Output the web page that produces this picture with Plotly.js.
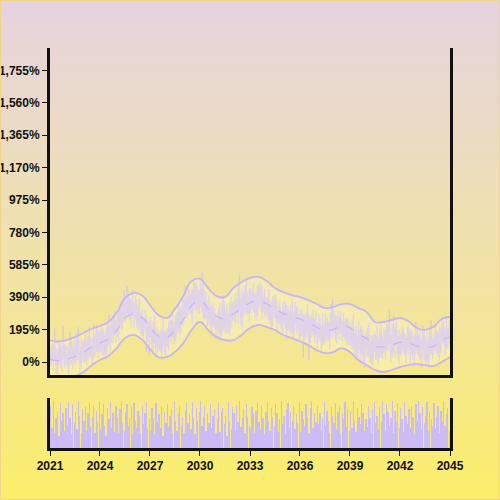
<!DOCTYPE html>
<html>
<head>
<meta charset="utf-8">
<script src="https://cdn.plot.ly/plotly-3.0.1.min.js"></script>
<style>
html,body{margin:0;padding:0;}
#wrap{position:relative;width:500px;height:500px;background:linear-gradient(to bottom,#e5d3df 0%,#ecdcc0 30%,#f2e4a0 60%,#fbee6a 100%);}
#chart{position:absolute;left:0;top:0;width:500px;height:500px;}
#frame{position:absolute;left:0;top:0;width:500px;height:500px;box-sizing:border-box;border:1px solid #f0d48c;pointer-events:none;}
</style>
</head>
<body>
<div id="wrap"><div id="chart"></div><div id="frame"></div></div>
<script>
// ---- monthly OHLC (percent) 2021-01 .. 2044-12 ----
const openVals = [
20,60,10,85,40,-20,30,75,5,50,95,20,
45,-10,60,110,35,80,15,70,130,45,-5,90,
60,120,30,85,150,60,100,40,140,95,170,70,
130,90,175,110,60,150,200,120,210,160,250,180,
230,200,280,230,320,260,350,300,380,330,270,360,
310,280,340,250,300,220,270,190,240,260,180,150,
210,170,110,200,130,90,160,120,80,190,140,100,
170,130,200,160,240,180,150,230,280,210,300,250,
330,290,380,320,410,350,300,420,360,440,380,330,
400,350,430,300,370,280,330,260,310,230,290,250,
200,230,300,180,260,330,220,290,250,200,310,270,
340,280,360,300,410,340,270,380,320,420,360,300,
390,340,410,370,300,400,350,430,380,320,390,340,
300,370,310,260,340,290,360,300,250,320,280,230,
300,250,320,210,280,230,300,190,260,310,220,270,
200,280,230,170,250,200,270,150,220,260,180,240,
190,150,230,180,120,210,160,240,190,140,220,280,
200,250,170,230,190,260,210,170,240,200,150,220,
180,140,210,100,170,60,130,190,80,150,40,120,
90,160,50,110,20,130,80,150,40,100,170,60,
120,70,180,110,210,140,60,160,100,190,130,50,
150,90,170,120,60,140,100,180,70,130,50,110,
160,80,140,30,110,150,60,120,20,100,170,70,
130,90,170,120,60,180,130,210,150,100,190,140
];
const closeVals = [
60,10,85,40,-20,30,75,5,50,95,20,45,
-10,60,110,35,80,15,70,130,45,-5,90,60,
120,30,85,150,60,100,40,140,95,170,70,130,
90,175,110,60,150,200,120,210,160,250,180,230,
200,280,230,320,260,350,300,380,330,270,360,310,
280,340,250,300,220,270,190,240,260,180,150,210,
170,110,200,130,90,160,120,80,190,140,100,170,
130,200,160,240,180,150,230,280,210,300,250,330,
290,380,320,410,350,300,420,360,440,380,330,400,
350,430,300,370,280,330,260,310,230,290,250,200,
230,300,180,260,330,220,290,250,200,310,270,340,
280,360,300,410,340,270,380,320,420,360,300,390,
340,410,370,300,400,350,430,380,320,390,340,300,
370,310,260,340,290,360,300,250,320,280,230,300,
250,320,210,280,230,300,190,260,310,220,270,200,
280,230,170,250,200,270,150,220,260,180,240,190,
150,230,180,120,210,160,240,190,140,220,280,200,
250,170,230,190,260,210,170,240,200,150,220,180,
140,210,100,170,60,130,190,80,150,40,120,90,
160,50,110,20,130,80,150,40,100,170,60,120,
70,180,110,210,140,60,160,100,190,130,50,150,
90,170,120,60,140,100,180,70,130,50,110,160,
80,140,30,110,150,60,120,20,100,170,70,130,
90,170,120,60,180,130,210,150,100,190,140,200
];
const highVals = [
90,115,105,200,80,55,135,110,95,215,110,95,
100,80,180,150,105,140,105,175,210,60,140,120,
140,190,125,175,210,135,145,220,155,220,200,185,
200,215,200,170,185,245,280,225,260,280,305,250,
270,305,340,355,365,430,365,460,410,385,380,430,
335,400,375,345,380,285,320,270,315,280,250,250,
270,205,245,280,145,210,190,175,210,260,180,195,
205,245,280,255,290,210,285,300,350,340,325,390,
375,460,395,460,440,405,440,490,480,465,440,435,
480,540,480,400,425,350,400,350,335,350,325,295,
280,330,355,280,400,370,315,350,285,355,390,355,
370,415,380,480,520,365,440,415,465,500,375,440,
445,430,480,410,425,460,465,475,460,405,440,370,
390,440,350,365,400,395,405,380,335,370,310,355,
370,360,345,340,315,345,380,275,360,340,325,290,
320,305,290,285,295,350,285,270,290,315,260,310,
215,290,265,225,290,225,290,270,245,240,350,375,
310,285,275,310,275,310,240,295,260,270,260,245,
215,255,290,185,220,160,245,210,220,190,145,180,
205,240,125,160,160,185,170,220,140,195,230,155,
200,195,230,240,310,160,230,280,215,250,165,195,
165,220,200,175,160,210,220,205,190,165,155,240,
210,170,195,130,220,190,145,180,135,215,250,145,
160,225,190,190,220,205,270,245,195,270,205,250
];
const lowVals = [
-25,-10,-55,10,-70,-95,5,-35,-55,30,-35,-15,
-30,-75,30,-15,-40,-10,-25,10,25,-60,-40,15,
-5,0,-20,10,35,20,-20,20,40,60,25,50,
60,40,35,35,20,90,100,65,125,115,160,115,
150,125,205,190,200,240,245,265,285,250,205,280,
205,255,210,190,200,165,155,145,220,60,120,40,
145,70,50,110,35,55,75,60,15,110,50,25,
90,70,140,105,145,105,130,165,180,160,175,225,
230,270,265,285,305,280,235,330,310,305,305,290,
330,295,265,255,260,215,230,210,155,205,210,140,
145,195,135,160,195,190,170,175,175,160,210,250,
245,235,280,235,310,220,195,295,280,300,280,245,
295,320,305,270,250,275,325,340,260,300,285,265,
280,245,230,210,215,265,260,190,230,225,195,185,
220,200,135,185,190,170,170,135,225,175,200,135,
150,155,30,130,140,180,10,115,175,160,115,160,
75,125,140,60,100,105,125,145,120,75,190,150,
175,130,110,170,135,175,125,150,135,120,100,105,
100,80,80,45,25,15,110,15,50,-10,-35,65,
30,30,-5,-15,-25,60,15,10,-10,25,35,20,
50,15,75,65,120,-5,30,50,25,105,10,-10,
35,55,75,40,-5,70,50,-5,45,10,-10,90,
45,35,10,-35,80,10,-15,-5,-20,40,50,15,
45,70,55,30,10,55,105,110,40,80,85,105
];
const volumeVals = [
85,40,95,30,60,75,25,90,55,70,35,80,
45,92,60,28,88,50,72,38,95,65,30,78,
55,82,35,70,90,42,62,85,30,75,52,93,
38,68,88,45,25,80,58,92,40,70,33,85,
62,30,78,95,50,35,72,88,45,60,82,28,
90,55,40,75,65,30,85,48,70,92,38,58,
35,80,60,28,90,52,68,40,82,25,72,50,
88,42,65,78,30,95,55,35,70,85,45,62,
30,75,90,50,68,38,92,60,28,80,55,72,
95,45,62,85,35,70,50,88,40,65,78,30,
58,90,32,72,80,48,65,25,92,55,38,82,
70,35,85,52,95,42,60,78,30,88,62,45,
40,82,68,30,75,90,52,38,85,60,28,72,
92,55,35,80,62,45,88,70,32,58,95,48,
65,28,78,90,42,72,55,85,38,68,50,92,
32,75,58,45,88,62,30,80,95,40,70,52,
85,48,70,35,60,92,45,75,55,30,82,65,
50,90,38,72,85,28,68,58,92,42,78,35,
75,40,95,55,32,80,62,48,88,70,35,58,
42,85,60,30,78,92,50,65,38,82,55,95,
68,35,88,72,45,60,95,30,75,52,90,40,
80,58,32,92,65,48,78,40,85,62,28,88,
55,95,70,38,82,50,65,92,35,72,58,45,
90,40,62,85,30,75,52,95,45,68,80,35
];
// ---- bands at half-year steps 2021-01 .. 2045-01 ----
const bandUpper = [132,122,132,150,175,199,217,241,295,385,415,403,343,283,265,319,397,488,500,445,397,391,445,482,506,512,488,445,421,403,391,373,349,325,331,349,349,325,301,241,241,253,265,247,205,193,211,259,271];
const bandMiddle = [16,8,16,33,58,90,115,139,190,265,289,271,211,157,148,190,256,341,371,319,274,262,289,323,356,368,350,319,292,274,259,238,211,190,196,217,205,169,142,97,91,103,118,115,97,88,94,130,151];
const bandLower = [-100,-106,-100,-85,-60,-20,12,36,84,144,163,138,78,30,30,60,114,193,241,193,150,132,132,163,205,223,211,193,163,144,126,102,72,54,60,84,60,12,-18,-48,-60,-48,-30,-18,-12,-18,-24,0,30];
const yTickStep = 195;
const yearTickStart = '2021-01-01';

const monthDates = [];
for (let y = 2021; y <= 2044; y++) {
  for (let m = 1; m <= 12; m++) monthDates.push(y + '-' + String(m).padStart(2,'0') + '-15');
}
const bandDates = [];
for (let i = 0; i < bandUpper.length; i++) {
  bandDates.push((2021 + Math.floor(i/2)) + (i % 2 ? '-07-01' : '-01-01'));
}

const lav = '#d3c0f4';
const bandLine = '#c7b5f6';
const traces = [
  {type:'scatter', mode:'lines', x:bandDates, y:bandLower, xaxis:'x', yaxis:'y',
   line:{color:bandLine, width:1.8, shape:'spline', smoothing:1.3}, hoverinfo:'skip'},
  {type:'scatter', mode:'lines', x:bandDates, y:bandUpper, xaxis:'x', yaxis:'y',
   fill:'tonexty', fillcolor:'rgba(255,255,235,0.25)',
   line:{color:bandLine, width:1.8, shape:'spline', smoothing:1.3}, hoverinfo:'skip'},
  {type:'scatter', mode:'lines', x:bandDates, y:bandMiddle, xaxis:'x', yaxis:'y',
   line:{color:bandLine, width:1.2, dash:'dash', shape:'spline', smoothing:1.3}, hoverinfo:'skip'},
  {type:'candlestick', x:monthDates, open:openVals, high:highVals, low:lowVals, close:closeVals,
   xaxis:'x', yaxis:'y', opacity:0.85, whiskerwidth:0,
   increasing:{line:{color:lav, width:1.3}, fillcolor:lav},
   decreasing:{line:{color:lav, width:1.3}, fillcolor:lav}},
  {type:'bar', x:monthDates, y:volumeVals, xaxis:'x2', yaxis:'y2',
   marker:{color:'#cbbbf7', line:{width:0}}}
];

const axisFont = {family:'Liberation Sans, Arial, sans-serif', size:12, color:'#111', weight:'bold'};
const layout = {
  width:500, height:500,
  margin:{l:50, r:50, t:48, b:52},
  paper_bgcolor:'rgba(0,0,0,0)', plot_bgcolor:'rgba(0,0,0,0)',
  showlegend:false, bargap:0, boxgap:0.05, boxgroupgap:0,
  font:axisFont,
  xaxis:{domain:[0,1], anchor:'y', type:'date', range:['2021-01-01','2045-01-01'],
    showline:true, linecolor:'#111', linewidth:3, showticklabels:false, ticks:'',
    showgrid:false, zeroline:false, rangeslider:{visible:false}},
  xaxis2:{domain:[0,1], anchor:'y2', type:'date', matches:'x', range:['2021-01-01','2045-01-01'],
    showline:true, linecolor:'#111', linewidth:3, ticks:'outside', ticklen:5, tickwidth:1, tickcolor:'#111',
    tick0:yearTickStart, dtick:'M36', tickformat:'%Y', showgrid:false, zeroline:false, tickfont:axisFont},
  yaxis:{domain:[0.1825,1], anchor:'x', range:[-78,1890], tick0:0, dtick:yTickStep,
    tickformat:',d', ticksuffix:'%', showline:true, mirror:true, linecolor:'#111', linewidth:3,
    ticks:'outside', ticklen:5, tickwidth:1, tickcolor:'#111', showgrid:false, zeroline:false, tickfont:axisFont},
  yaxis2:{domain:[0,0.125], anchor:'x2', range:[0,100], showline:true, mirror:true,
    linecolor:'#111', linewidth:3, showticklabels:false, ticks:'', showgrid:false, zeroline:false}
};
Plotly.newPlot('chart', traces, layout, {displayModeBar:false, staticPlot:true});
</script>
</body>
</html>
